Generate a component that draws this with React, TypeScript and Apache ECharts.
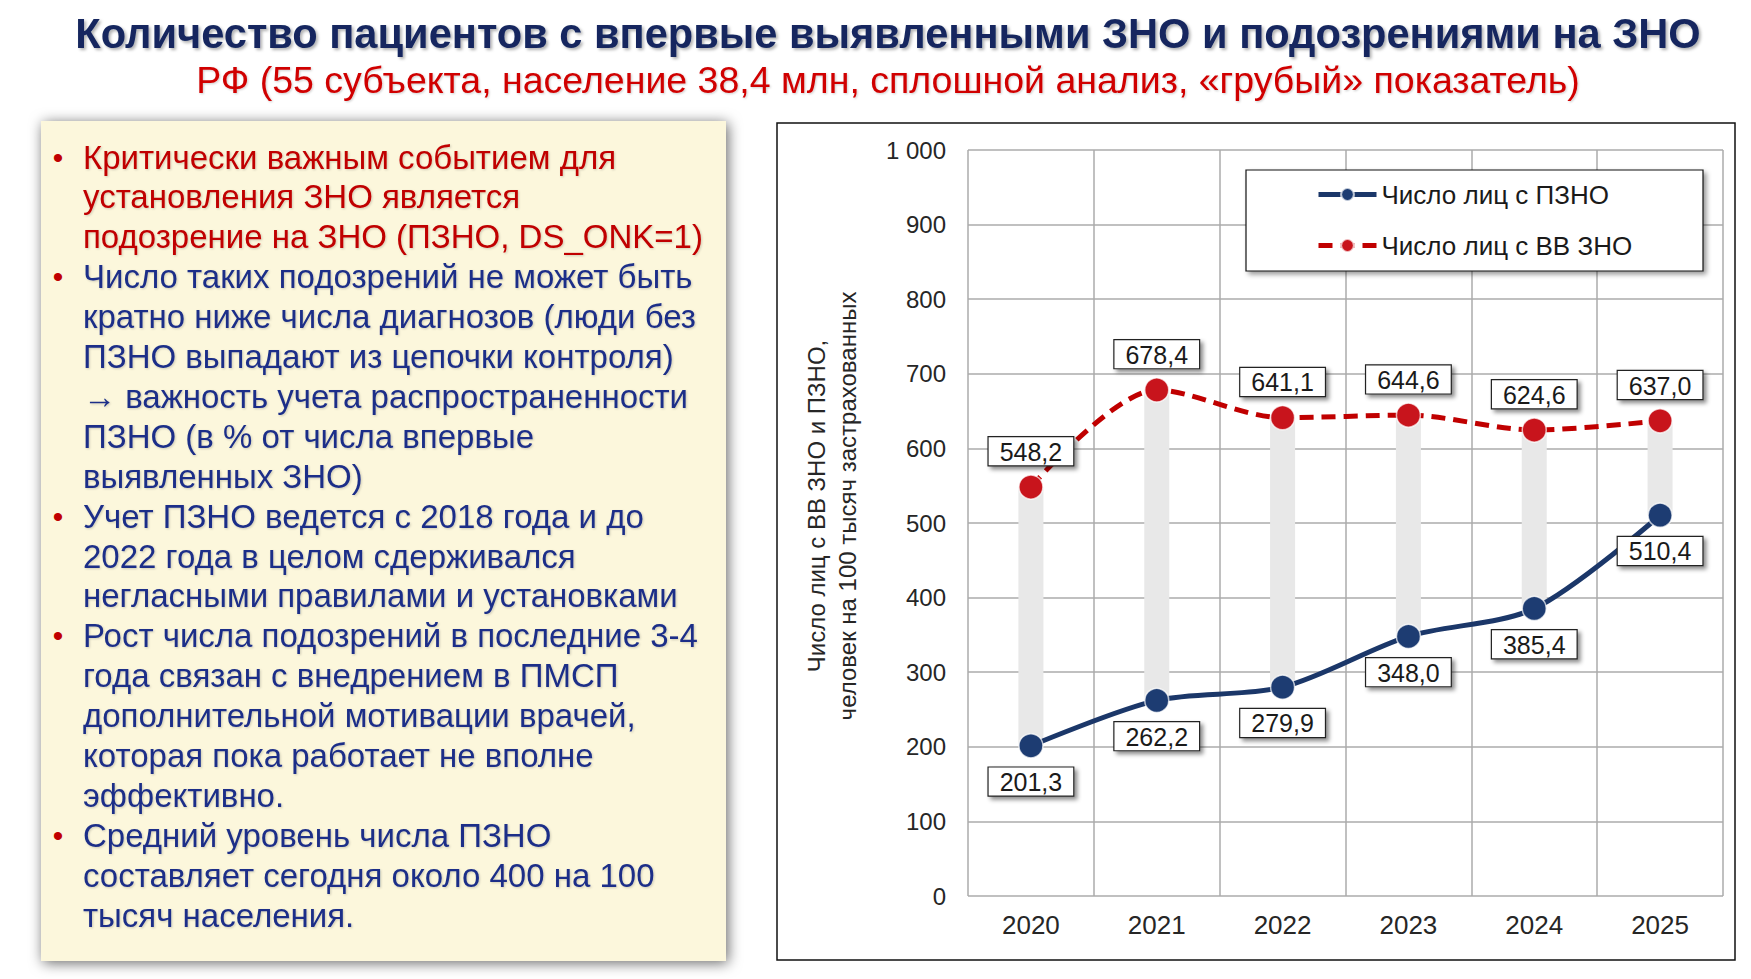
import React, { useEffect, useRef } from "react";
import * as echarts from "echarts";

// Years on the horizontal axis
const years = ["2020", "2021", "2022", "2023", "2024", "2025"];
// Persons with suspected malignancy (ПЗНО), per 100k insured
const pznoValues = [201.3, 262.2, 279.9, 348.0, 385.4, 510.4];
// Persons with newly diagnosed malignancy (ВВ ЗНО), per 100k insured
const vvZnoValues = [548.2, 678.4, 641.1, 644.6, 624.6, 637.0];

const seriesNames = ["Число лиц с ПЗНО", "Число лиц с ВВ ЗНО"];

const titleText = "Количество пациентов с впервые выявленными ЗНО и подозрениями на ЗНО";
const subtitleText = "РФ (55 субъекта, население 38,4 млн, сплошной анализ, «грубый» показатель)";
const yAxisTitle = ["Число лиц с ВВ ЗНО и ПЗНО,", "человек на 100 тысяч застрахованных"];

// Notes panel: each line, whether it opens a bullet, and its colour key
const noteLines: { text: string; bullet: boolean; tone: "red" | "blue" }[] = [
  { text: "Критически важным событием для", bullet: true, tone: "red" },
  { text: "установления ЗНО является", bullet: false, tone: "red" },
  { text: "подозрение на ЗНО (ПЗНО, DS_ONK=1)", bullet: false, tone: "red" },
  { text: "Число таких подозрений не может быть", bullet: true, tone: "blue" },
  { text: "кратно ниже числа диагнозов (люди без", bullet: false, tone: "blue" },
  { text: "ПЗНО выпадают из цепочки контроля)", bullet: false, tone: "blue" },
  { text: "→ важность учета распространенности", bullet: false, tone: "blue" },
  { text: "ПЗНО (в % от числа впервые", bullet: false, tone: "blue" },
  { text: "выявленных ЗНО)", bullet: false, tone: "blue" },
  { text: "Учет ПЗНО ведется с 2018 года и до", bullet: true, tone: "blue" },
  { text: "2022 года в целом сдерживался", bullet: false, tone: "blue" },
  { text: "негласными правилами и установками", bullet: false, tone: "blue" },
  { text: "Рост числа подозрений в последние 3-4", bullet: true, tone: "blue" },
  { text: "года связан с внедрением в ПМСП", bullet: false, tone: "blue" },
  { text: "дополнительной мотивации врачей,", bullet: false, tone: "blue" },
  { text: "которая пока работает не вполне", bullet: false, tone: "blue" },
  { text: "эффективно.", bullet: false, tone: "blue" },
  { text: "Средний уровень числа ПЗНО", bullet: true, tone: "blue" },
  { text: "составляет сегодня около 400 на 100", bullet: false, tone: "blue" },
  { text: "тысяч населения.", bullet: false, tone: "blue" },
];

const FONT = "'Liberation Sans', Arial, sans-serif";
const RED = "#c00000";
const BLUE_TEXT = "#1c2f88";
const NAVY = "#1b3769";
const MARK_RED = "#c8141c";

const fmt = (v: number) => v.toFixed(1).replace(".", ",");

export default function App() {
  const ref = useRef<HTMLDivElement>(null);

  useEffect(() => {
    if (!ref.current) return;
    const chart = echarts.init(ref.current, undefined, { renderer: "svg" });

    const noteGraphics: any[] = [];
    noteLines.forEach((ln, i) => {
      const y = 157 + i * 39.9;
      if (ln.bullet) {
        noteGraphics.push({
          type: "text",
          x: 58,
          y,
          style: {
            text: "•",
            fill: RED,
            font: `30px ${FONT}`,
            textAlign: "center",
            textVerticalAlign: "middle",
          },
        });
      }
      noteGraphics.push({
        type: "text",
        x: 83,
        y,
        style: {
          text: ln.text,
          fill: ln.tone === "red" ? RED : BLUE_TEXT,
          font: `33px ${FONT}`,
          textAlign: "left",
          textVerticalAlign: "middle",
          textShadowColor: "rgba(0,0,0,0.18)",
          textShadowBlur: 2,
          textShadowOffsetX: 1,
          textShadowOffsetY: 1,
        },
      });
    });

    const labelBox = {
      show: true,
      fontFamily: FONT,
      fontSize: 25,
      lineHeight: 27,
      color: "#1a1a1a",
      backgroundColor: "#ffffff",
      borderColor: "#222222",
      borderWidth: 1.2,
      padding: [1, 11, 0, 11],
      shadowColor: "rgba(0,0,0,0.45)",
      shadowBlur: 4,
      shadowOffsetX: 3,
      shadowOffsetY: 3,
      distance: 9,
      formatter: (p: any) => fmt(p.value),
    };

    chart.setOption({
      animation: false,
      backgroundColor: "#ffffff",
      textStyle: { fontFamily: FONT },
      graphic: [
        {
          type: "text",
          x: 888,
          y: 33,
          style: {
            text: titleText,
            fill: "#14275e",
            font: `bold 41.6px ${FONT}`,
            textAlign: "center",
            textVerticalAlign: "middle",
            textShadowColor: "rgba(0,0,0,0.3)",
            textShadowBlur: 3,
            textShadowOffsetX: 2,
            textShadowOffsetY: 2,
          },
        },
        {
          type: "text",
          x: 888,
          y: 80,
          style: {
            text: subtitleText,
            fill: "#d00000",
            font: `37.5px ${FONT}`,
            textAlign: "center",
            textVerticalAlign: "middle",
            textShadowColor: "rgba(0,0,0,0.2)",
            textShadowBlur: 2,
            textShadowOffsetX: 1,
            textShadowOffsetY: 1,
          },
        },
        {
          type: "rect",
          shape: { x: 41, y: 121, width: 685, height: 840 },
          style: {
            fill: "#fcf7dc",
            shadowColor: "rgba(0,0,0,0.6)",
            shadowBlur: 14,
            shadowOffsetX: 2,
            shadowOffsetY: 2,
          },
        },
        ...noteGraphics,
        {
          type: "rect",
          shape: { x: 777, y: 123, width: 958, height: 837 },
          style: { fill: "none", stroke: "#111111", lineWidth: 1.5 },
        },
        {
          type: "text",
          x: 832,
          y: 506,
          rotation: Math.PI / 2,
          style: {
            text: yAxisTitle.join("\n"),
            fill: "#262626",
            font: `24px ${FONT}`,
            lineHeight: 31,
            textAlign: "center",
            textVerticalAlign: "middle",
          },
        },
        {
          type: "rect",
          z: 50,
          shape: { x: 1246, y: 170, width: 457, height: 101 },
          style: {
            fill: "#ffffff",
            stroke: "#111111",
            lineWidth: 1.2,
            shadowColor: "rgba(0,0,0,0.4)",
            shadowBlur: 5,
            shadowOffsetX: 3,
            shadowOffsetY: 3,
          },
        },
      ],
      legend: {
        z: 60,
        data: [
          { name: seriesNames[0], lineStyle: { width: 5 } },
          { name: seriesNames[1], lineStyle: { width: 5 } },
        ],
        orient: "vertical",
        left: 1316,
        top: 181,
        padding: 0,
        itemWidth: 58,
        itemHeight: 16,
        itemGap: 24,
        textStyle: { fontFamily: FONT, fontSize: 26, color: "#1a1a1a", lineHeight: 27 },
      },
      grid: { left: 968, top: 150, width: 755, height: 746 },
      xAxis: {
        type: "category",
        data: years,
        boundaryGap: true,
        axisLine: { show: false },
        axisTick: { show: false },
        axisLabel: { fontSize: 26, color: "#262626", margin: 16, fontFamily: FONT },
        splitLine: { show: true, lineStyle: { color: "#ababab", width: 1.5 } },
      },
      yAxis: {
        type: "value",
        min: 0,
        max: 1000,
        interval: 100,
        axisLine: { show: false },
        axisTick: { show: false },
        axisLabel: {
          fontSize: 24,
          color: "#262626",
          margin: 22,
          fontFamily: FONT,
          formatter: (v: number) => (v === 1000 ? "1 000" : String(v)),
        },
        splitLine: { show: true, lineStyle: { color: "#ababab", width: 1.5 } },
      },
      series: [
        {
          type: "custom",
          name: "range",
          z: 1,
          silent: true,
          data: years.map((_, i) => [i, pznoValues[i], vvZnoValues[i]]),
          encode: { x: 0, y: [1, 2] },
          renderItem: (params: any, api: any) => {
            const lo = api.coord([api.value(0), api.value(1)]);
            const hi = api.coord([api.value(0), api.value(2)]);
            return {
              type: "rect",
              shape: { x: lo[0] - 12.5, y: hi[1], width: 25, height: lo[1] - hi[1] },
              style: { fill: "#e8e8e8" },
            };
          },
        },
        {
          type: "line",
          name: seriesNames[0],
          z: 3,
          data: pznoValues,
          smooth: 0.3,
          symbol: "circle",
          symbolSize: 24,
          lineStyle: { color: NAVY, width: 5 },
          itemStyle: { color: "#1d3c72", borderColor: "rgba(255,255,255,0.7)", borderWidth: 1.5 },
          label: { ...labelBox, position: "bottom" },
        },
        {
          type: "line",
          name: seriesNames[1],
          z: 3,
          data: vvZnoValues,
          smooth: 0.3,
          symbol: "circle",
          symbolSize: 24,
          lineStyle: { color: RED, width: 5, type: [14, 8] },
          itemStyle: { color: MARK_RED, borderColor: "rgba(255,255,255,0.7)", borderWidth: 1.5 },
          label: { ...labelBox, position: "top" },
        },
      ],
    });

    return () => chart.dispose();
  }, []);

  return (
    <div
      ref={ref}
      style={{ position: "absolute", left: 0, top: 0, width: 1751, height: 979 }}
    />
  );
}
